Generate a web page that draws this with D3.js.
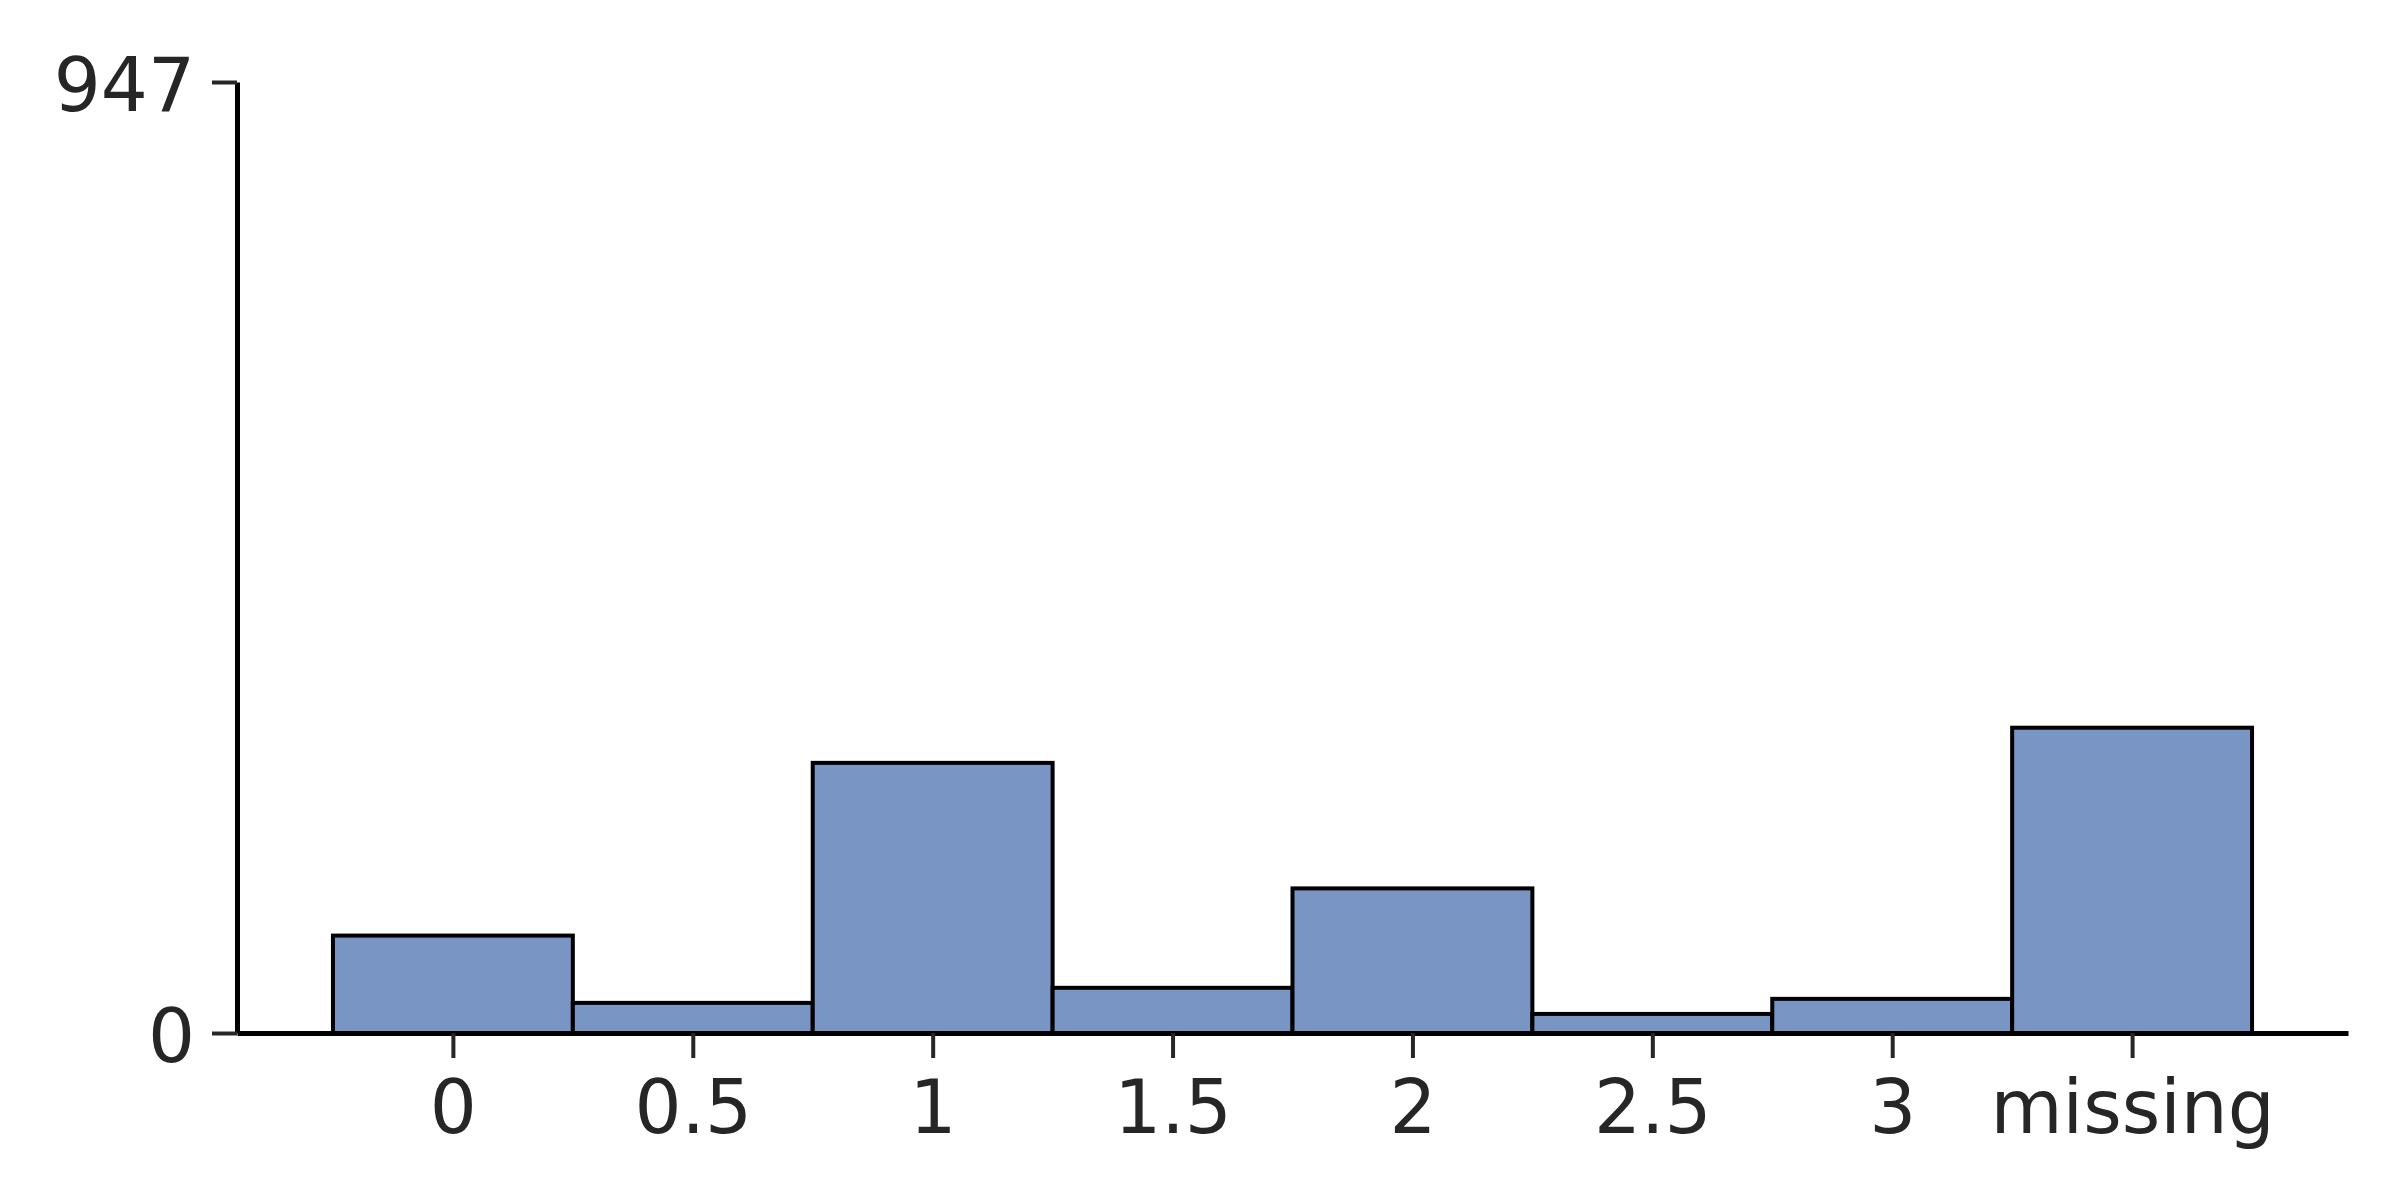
<!DOCTYPE html>
<html>
<head>
<meta charset="utf-8">
<script src="https://cdn.jsdelivr.net/npm/d3@7"></script>
<style>
  html, body { margin: 0; padding: 0; background: #fff; }
  svg { display: block; }
</style>
</head>
<body>
<svg id="chart" width="2400" height="1200"></svg>
<script>
// ---- data ----
const categories = ["0", "0.5", "1", "1.5", "2", "2.5", "3", "missing"];
const counts = [97, 30, 269, 45, 144, 19, 34, 304];
const yTickValues = [0, 947];
const yMax = 947;

// ---- layout ----
const plotLeft = 237, plotRight = 2348, plotTop = 82, plotBottom = 1033;
const fontFamily = "'DejaVu Sans', sans-serif";
const textColor = "#262626";
const barFill = "rgb(121,149,196)";

const svg = d3.select("#chart");

const idx = categories.map((d, i) => i);
const x = d3.scaleLinear().domain([-0.9, categories.length - 0.1]).range([plotLeft, plotRight]);
const y = d3.scaleLinear().domain([0, yMax]).range([plotBottom, plotTop]);

// bars
svg.append("g").selectAll("rect")
  .data(counts)
  .join("rect")
  .attr("x", (d, i) => x(i - 0.5))
  .attr("width", (d, i) => x(i + 0.5) - x(i - 0.5))
  .attr("y", d => y(d))
  .attr("height", d => y(0) - y(d))
  .attr("fill", barFill)
  .attr("stroke", "#000")
  .attr("stroke-width", 4);

// x axis
const xAxis = d3.axisBottom(x)
  .tickValues(idx)
  .tickFormat(i => categories[i])
  .tickSizeInner(25)
  .tickSizeOuter(0)
  .tickPadding(22);

const gx = svg.append("g")
  .attr("transform", `translate(0,${plotBottom})`)
  .call(xAxis);
gx.select(".domain").attr("stroke", "#000").attr("stroke-width", 5);
gx.selectAll(".tick line").attr("stroke", textColor).attr("stroke-width", 4);
gx.selectAll(".tick text")
  .attr("fill", textColor)
  .style("font-family", fontFamily)
  .style("font-size", "74px");

// y axis
const yAxis = d3.axisLeft(y)
  .tickValues(yTickValues)
  .tickFormat(d3.format("d"))
  .tickSizeInner(25)
  .tickSizeOuter(0)
  .tickPadding(17);

const gy = svg.append("g")
  .attr("transform", `translate(${plotLeft},0)`)
  .call(yAxis);
gy.select(".domain").attr("stroke", "#000").attr("stroke-width", 5);
gy.selectAll(".tick line").attr("stroke", textColor).attr("stroke-width", 4);
gy.selectAll(".tick text")
  .attr("fill", textColor)
  .attr("dy", "0.38em")
  .style("font-family", fontFamily)
  .style("font-size", "74px");
</script>
</body>
</html>
